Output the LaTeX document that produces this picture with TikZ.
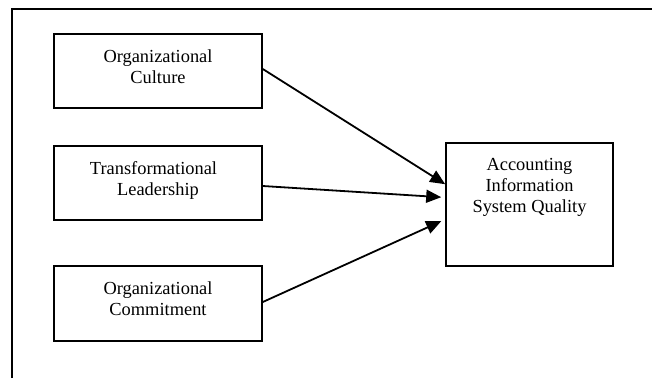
\documentclass[tikz,border=0pt]{standalone}
\usepackage{fontspec}
\setmainfont{Liberation Serif}
\usetikzlibrary{arrows.meta}
\begin{document}
\begin{tikzpicture}[x=1pt,y=-1pt,
  box/.style={draw=black,line width=1.6pt,rectangle,inner sep=0pt},
  lbl/.style={anchor=north,inner sep=0pt,align=center,font=\fontsize{18.4}{21}\selectfont},
  conn/.style={line width=1.8pt,-{Triangle[length=15pt,width=13pt]}},
  frame/.style={line width=1.4pt}]
\fill[white] (0,0) rectangle (652,378);
\useasboundingbox (0,0) rectangle (652,378);
\coordinate (fc) at (12,9);
\coordinate (ftr) at (652,9);
\coordinate (fbl) at (12,378);
\draw[frame] (fbl) -- (fc) -- (ftr);
\node[box,minimum width=208pt,minimum height=74pt] (b1) at (158,71) {};
\node[box,minimum width=208pt,minimum height=74pt] (b2) at (158,183) {};
\node[box,minimum width=208pt,minimum height=75pt] (b3) at (158,303.5) {};
\node[box,minimum width=167pt,minimum height=123pt] (b4) at (529.5,204.5) {};
\node[lbl] (t1) at ([yshift=-16pt]b1.north) {Organizational\\Culture};
\node[lbl] (t2) at ([yshift=-16pt]b2.north) {Transformational\kern9pt\\Leadership};
\node[lbl] (t3) at ([yshift=-16pt]b3.north) {Organizational\\Commitment};
\node[lbl] (t4) at ([yshift=-16pt]b4.north) {Accounting\\Information\\System Quality};
\draw[conn] ([yshift=2pt]b1.east) -- ([yshift=-42pt]b4.north west);
\draw[conn] ([yshift=-3pt]b2.east) -- ([xshift=-4pt,yshift=-55pt]b4.north west);
\draw[conn] ([yshift=1.5pt]b3.east) -- ([xshift=-4pt,yshift=-79pt]b4.north west);
\end{tikzpicture}
\end{document}
